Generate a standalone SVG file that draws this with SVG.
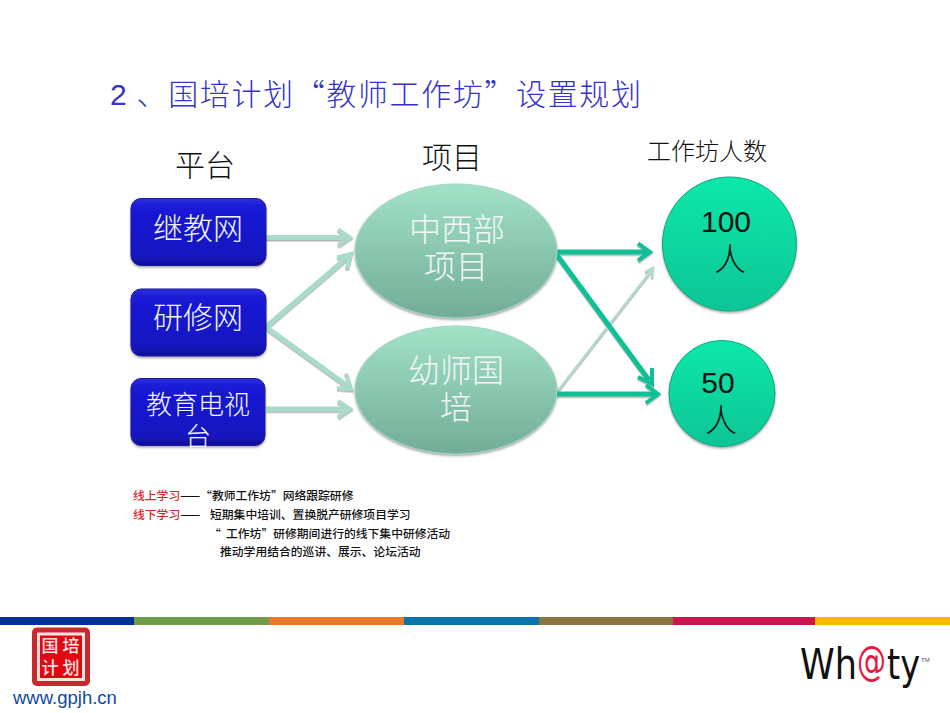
<svg xmlns="http://www.w3.org/2000/svg" width="950" height="713" viewBox="0 0 950 713">
<style>
text{font-family:"Liberation Sans","Noto Sans CJK SC",sans-serif}
.cjk{font-family:"Noto Sans CJK SC",sans-serif;font-weight:300}
.w{fill:#f2f6fb;text-anchor:middle}
.k{fill:#111;text-anchor:middle}
.box{fill:url(#gb);stroke:#1c1c9c;stroke-width:1;filter:url(#sh)}
.ell{fill:url(#ge);stroke:#a5d8c3;stroke-width:1;filter:url(#sh)}
.cir{fill:url(#gc);stroke:#0ea884;stroke-width:1;filter:url(#sh)}
.light{fill:none;stroke:#a9dcc8;stroke-width:5}
.lh{fill:none;stroke:#a9dcc8;stroke-width:4}
.dark{fill:none;stroke:#0fc096;stroke-width:5}
.dh{fill:none;stroke:#0fc096;stroke-width:4}
.thin{fill:none;stroke:#b5d9cc;stroke-width:2.500}
.note{font-family:"Noto Sans CJK SC",sans-serif;font-size:11.800px;fill:#111;font-weight:500}
.red{fill:#e2222a}
.logo{font-family:"DejaVu Sans",sans-serif;font-size:42px;fill:#111}
.seal{font-family:"Noto Sans CJK SC",sans-serif;font-size:17px;font-weight:500;fill:#fbe9e4;text-anchor:middle}
</style>
<defs>
<linearGradient id="gb" x1="0" y1="0" x2="0" y2="1"><stop offset="0" stop-color="#2f2fe0"/><stop offset=".12" stop-color="#1a1ad6"/><stop offset=".85" stop-color="#1414c0"/><stop offset="1" stop-color="#10109a"/></linearGradient>
<linearGradient id="ge" x1="0" y1="0" x2="0" y2="1"><stop offset="0" stop-color="#a2e2c6"/><stop offset="1" stop-color="#72ac97"/></linearGradient>
<linearGradient id="gc" x1="0" y1="0" x2="0" y2="1"><stop offset="0" stop-color="#10e8aa"/><stop offset="1" stop-color="#10c596"/></linearGradient>
<filter id="sh" x="-10%" y="-10%" width="120%" height="125%"><feDropShadow dx="0" dy="1.500" stdDeviation="1.200" flood-color="#555" flood-opacity=".55"/></filter>
<filter id="ls" x="-5%" y="-5%" width="110%" height="110%"><feDropShadow dx="0" dy="1.500" stdDeviation=".6" flood-color="#666" flood-opacity=".5"/></filter>
</defs>

<text id="title" class="cjk" x="110" y="105" font-size="30" fill="#3434c8" textLength="531"><tspan font-family="Liberation Sans">2</tspan> 、国培计划“教师工作坊”设置规划</text>

<g id="headers">
<text class="cjk k" x="205" y="176" font-size="30">平台</text>
<text class="cjk k" x="452" y="168" font-size="30">项目</text>
<text class="cjk k" x="707" y="160" font-size="24">工作坊人数</text>
</g>

<g id="connectors" filter="url(#ls)">
<path class="light" d="M266 237.500H348"/><path class="lh" d="M338 229.500L350 237.500L338 245.500"/>
<path class="light" d="M266 327L349 256"/><path class="lh" d="M337 257.500L351 254L347 269"/>
<path class="light" d="M266 327L349 387"/><path class="lh" d="M346 373.500L351 389L337 388"/>
<path class="light" d="M266 409H348"/><path class="lh" d="M338 401L350 409L338 417"/>
<path class="dark" d="M557 252H648"/><path class="dh" d="M638 243.500L650 252L638 260.500"/>
<path class="thin" d="M557 392L651 271"/><path class="thin" d="M645 272L653 268L652 278"/>
<path class="dark" d="M557 255L649 380"/><path class="dh" d="M652 368L652 384L638 377"/>
<path class="dark" d="M557 394H656"/><path class="dh" d="M646 385L658 394L646 403"/>
</g>

<g id="node-jijiao"><rect class="box" x="131" y="198.500" width="135" height="67" rx="10"/><text class="cjk w" x="198" y="239" font-size="30">继教网</text></g>
<g id="node-yanxiu"><rect class="box" x="131" y="289" width="135" height="67" rx="10"/><text class="cjk w" x="198" y="328" font-size="30">研修网</text></g>
<g id="node-tv"><rect class="box" x="131" y="378.500" width="134" height="67" rx="10"/><text class="cjk w" x="198" y="414" font-size="26">教育电视</text><text class="cjk w" x="198" y="446" font-size="26">台</text></g>

<g id="node-zhongxibu"><ellipse class="ell" cx="456" cy="251" rx="101" ry="67"/><text class="cjk w" x="457" y="241" font-size="32">中西部</text><text class="cjk w" x="456" y="278" font-size="32">项目</text></g>
<g id="node-youshi"><ellipse class="ell" cx="456" cy="390" rx="101" ry="64"/><text class="cjk w" x="456" y="382" font-size="32">幼师国</text><text class="cjk w" x="456" y="419" font-size="32">培</text></g>

<g id="node-100"><circle class="cir" cx="729.500" cy="244" r="67"/><text class="k" x="726" y="232" font-size="30">100</text><text class="cjk k" x="730" y="271" font-size="32">人</text></g>
<g id="node-50"><circle class="cir" cx="722" cy="393.500" r="53"/><text class="k" x="718" y="393" font-size="30">50</text><text class="cjk k" x="721" y="432" font-size="32">人</text></g>

<g id="notes">
<text class="note" x="133" y="500"><tspan class="red">线上学习</tspan>——“教师工作坊”网络跟踪研修</text>
<text class="note" x="133" y="519"><tspan class="red">线下学习</tspan>—— <tspan x="210">短期集中培训、置换脱产研修项目学习</tspan></text>
<text class="note" x="209" y="538">“ <tspan x="226">工作坊”研修期间进行的线下集中研修活动</tspan></text>
<text class="note" x="220" y="556">推动学用结合的巡讲、展示、论坛活动</text>
</g>

<g id="footer-bar">
<rect x="0" y="617" width="134" height="8" fill="#003194"/>
<rect x="134" y="617" width="135" height="8" fill="#6f9a48"/>
<rect x="269" y="617" width="135" height="8" fill="#e8782a"/>
<rect x="404" y="617" width="135" height="8" fill="#0b72ac"/>
<rect x="539" y="617" width="134" height="8" fill="#8a7440"/>
<rect x="673" y="617" width="142" height="8" fill="#c8164e"/>
<rect x="815" y="617" width="135" height="8" fill="#f9b800"/>
</g>

<g id="seal">
<rect x="32" y="627.500" width="58" height="58.500" rx="5" fill="#c9282e"/>
<rect x="38.500" y="634" width="45" height="45.500" fill="#e30613" stroke="#fbe4de" stroke-width="3"/>
<text class="seal" x="50" y="652">国</text>
<text class="seal" x="71" y="652">培</text>
<text class="seal" x="50" y="674">计</text>
<text class="seal" x="71" y="674">划</text>
</g>
<text id="url" x="13" y="704" font-size="18.500" fill="#0f4a9c">www.gpjh.cn</text>

<g id="whaty">
<text class="logo" x="800" y="679" textLength="57" lengthAdjust="spacingAndGlyphs">Wh</text>
<text class="logo" x="857" y="675" font-size="40" style="fill:#e8173f;font-size:40px" textLength="29" lengthAdjust="spacingAndGlyphs">@</text>
<text class="logo" x="887" y="679" textLength="33" lengthAdjust="spacingAndGlyphs">ty</text>
<text x="921" y="662" font-size="6" fill="#555">TM</text>
</g>
</svg>
